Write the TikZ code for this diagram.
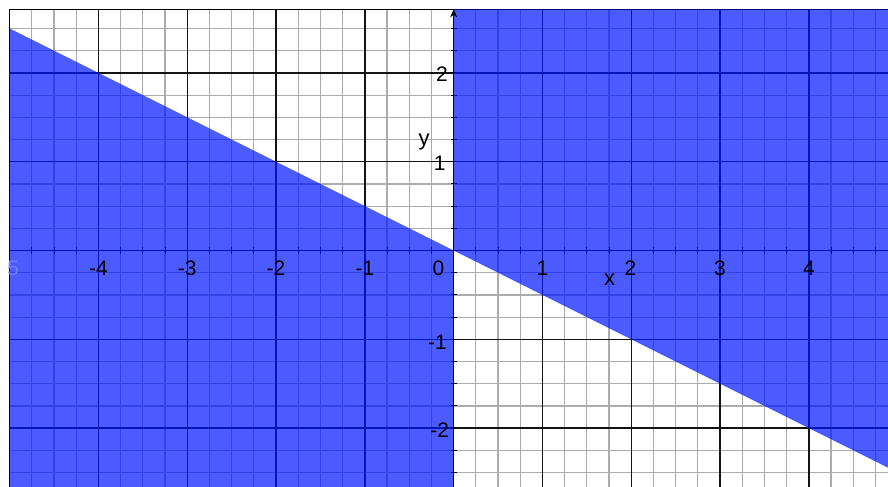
\documentclass[tikz,border=0pt]{standalone}
\usepackage{fontspec}
\setmainfont{Liberation Sans}
\usetikzlibrary{arrows.meta}
\definecolor{shadeblue}{RGB}{0,22,255}
\definecolor{minorgrid}{RGB}{172,172,172}
\definecolor{majorgrid}{RGB}{20,20,20}
\definecolor{fadedlabel}{RGB}{110,125,240}
\begin{document}
\begin{tikzpicture}[x=88.8pt,y=88.8pt,
  minorline/.style={draw=minorgrid,line width=1.2pt},
  majorline/.style={draw=majorgrid,line width=1.5pt},
  axisline/.style={draw=black,line width=1.4pt},
  tickline/.style={draw=black,line width=1pt},
  region/.style={fill=shadeblue,fill opacity=0.7},
  numlabel/.style={font=\fontsize{21}{23}\selectfont,inner sep=0pt},
  axislabel/.style={font=\fontsize{22}{24}\selectfont,inner sep=0pt}]
\useasboundingbox[fill=white] (-5.109,-2.652) rectangle (4.891,2.821);
\begin{scope}
\clip (-5.02,-2.652) rectangle (4.891,2.73);
\draw[minorline,step=0.25] (-5,-3) grid (5,2.716);
\draw[majorline,step=1] (-5,-3) grid (5,2.716);
\coordinate (xl) at (-5,0);
\coordinate (xr) at (5,0);
\draw[axisline] (xl) -- (xr);
\foreach \t in {-5,-4.75,...,5} \draw[tickline] (\t,-0.035) -- (\t,0.035);
\foreach \t in {-2.75,-2.5,...,2.75} \draw[tickline] (-0.035,\t) -- (0.035,\t);
\coordinate (bl) at (-5,-3);
\coordinate (tl) at (-5,2.716);
\coordinate (tr) at (5,2.716);
\draw[axisline] (bl) -- (tl) -- (tr);
\fill[region] (-5,2.5) -- (0,0) -- (0,-3) -- (-5,-3) -- cycle;
\fill[region] (0,2.716) -- (0,0) -- (5,-2.5) -- (5,2.716) -- cycle;
\node[numlabel,text=fadedlabel] (lm5) at (-5,-0.203) {-5};
\end{scope}
\coordinate (yb) at (0,-2.652);
\coordinate (yt) at (0,2.716);
\draw[axisline,-{Stealth[length=8pt,width=7pt]}] (yb) -- (yt);
\node[numlabel] (lm4) at (-4,-0.203) {-4};
\node[numlabel] (lm3) at (-3,-0.203) {-3};
\node[numlabel] (lm2) at (-2,-0.203) {-2};
\node[numlabel] (lm1) at (-1,-0.203) {-1};
\node[numlabel] (l0) at (-0.171,-0.203) {0};
\node[numlabel] (lp1) at (1,-0.203) {1};
\node[numlabel] (lp2) at (1.99,-0.203) {2};
\node[numlabel] (lp3) at (3,-0.203) {3};
\node[numlabel] (lp4) at (4,-0.203) {4};
\node[numlabel,anchor=east] (ly2) at (-0.064,1.99) {2};
\node[numlabel,anchor=east] (ly1) at (-0.09,0.98) {1};
\node[numlabel,anchor=east] (lym1) at (-0.075,-1.03) {-1};
\node[numlabel,anchor=east] (lym2) at (-0.05,-2.02) {-2};
\node[axislabel] (ylab) at (-0.334,1.22) {y};
\node[axislabel] (xlab) at (1.755,-0.33) {x};
\end{tikzpicture}
\end{document}
